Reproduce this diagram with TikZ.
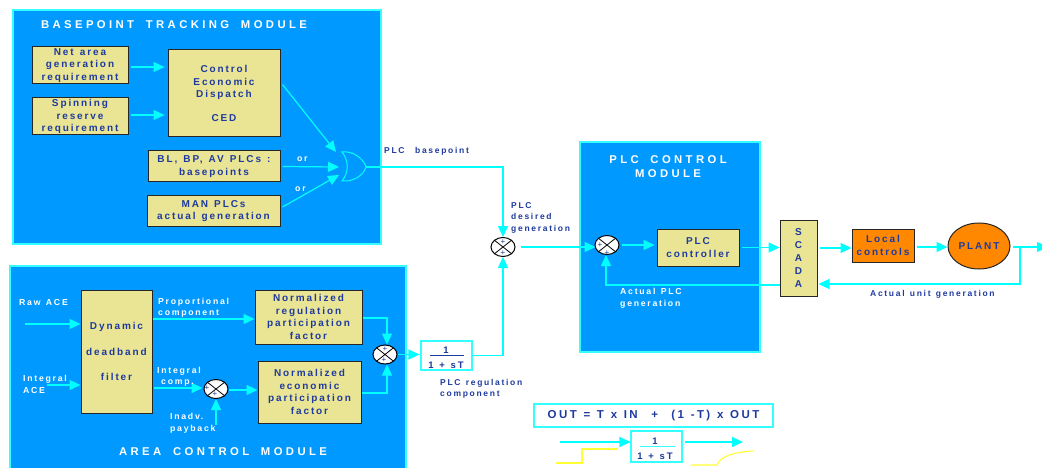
\documentclass[tikz,border=0pt]{standalone}
\usepackage{fontspec}
\setmainfont{Liberation Sans}
\newfontfamily\lab[LetterSpace=19,WordSpace=1.3]{Liberation Sans Bold}
\newfontfamily\slab[LetterSpace=20,WordSpace=1.3]{Liberation Sans Bold}
\newfontfamily\ttl[LetterSpace=30,WordSpace=1.8]{Liberation Sans Bold}
\newfontfamily\eqf[LetterSpace=21,WordSpace=1.2]{Liberation Sans Bold}
\usetikzlibrary{arrows.meta,shapes.geometric,calc}
\definecolor{modblue}{HTML}{0099FF}
\definecolor{modedge}{HTML}{33FFFF}
\definecolor{wire}{HTML}{00FFFF}
\definecolor{boxy}{HTML}{E9E595}
\definecolor{ink}{HTML}{1F3A9E}
\definecolor{orng}{HTML}{FF8800}
\definecolor{yel}{HTML}{FFFF33}
\tikzset{
  x=1pt,y=-1pt,
  module/.style={draw=modedge,fill=modblue,line width=1.2pt},
  ybox/.style={draw=black!85,fill=boxy,line width=1pt,text=ink,font=\fontsize{10}{12.8}\lab,align=center,inner sep=0pt},
  tf/.style={draw=modedge,fill=white,line width=1.2pt,text=ink,inner sep=0pt},
  tftext/.style={text=ink,font=\fontsize{9.5}{10}\lab,inner sep=0pt},
  wlab/.style={text=white,font=\fontsize{8.7}{11.5}\slab,align=left,inner sep=0pt,anchor=west},
  blab/.style={text=ink,font=\fontsize{8.5}{11.5}\slab,align=left,inner sep=0pt,anchor=west},
  title/.style={text=white,font=\fontsize{11.3}{14}\ttl,align=center,inner sep=0pt},
  wire/.style={draw=wire,line width=1.2pt},
  arr/.style={wire,-{Triangle[length=11pt,width=10pt]}},
  sumj/.style={ellipse,draw=black,fill=white,line width=1pt,minimum width=24pt,minimum height=19pt,inner sep=0pt,
    path picture={\draw[black,line width=.8pt] (path picture bounding box.north west)--(path picture bounding box.south east)
      (path picture bounding box.north east)--(path picture bounding box.south west);}},
  plus/.style={text=ink,font=\fontsize{8}{8}\selectfont,inner sep=0pt},
}
\newcommand{\boxat}[6][ybox]{\node[#1,minimum width=#4pt,minimum height=#5pt] (#2) at (#3) {#6};}
\begin{document}
\begin{tikzpicture}
\useasboundingbox (0,0) rectangle (1042,468);
% modules
\path[module] (13,10) rectangle (381,244);
\path[module] (10,266) rectangle (406,475);
\path[module] (580,142) rectangle (760,352);
\clip (0,0) rectangle (1042,468);
\node[title] (ttlb) at (174,24.5) {BASEPOINT TRACKING MODULE};
\node[title] (ttla) at (223,452) {AREA CONTROL MODULE};
\node[title] (ttlp) at (668,167) {PLC CONTROL\\MODULE};
% boxes
\boxat{net}{80,65.5}{96}{37}{Net area\\generation\\requirement}
\boxat{spin}{80,116.5}{96}{37}{Spinning\\reserve\\requirement}
\boxat{ced}{224,93.5}{112}{87}{Control\\Economic\\Dispatch\\[11pt]CED}
\boxat{bl}{214,166.5}{132}{31}{BL, BP, AV PLCs :\\basepoints}
\boxat{man}{213.5,211}{133}{30}{MAN PLCs\\actual generation}
\boxat{dyn}{116.5,351.5}{71}{123}{Dynamic\\[13pt]deadband\\[13pt]filter}
\boxat{reg}{308.5,317}{107}{54}{Normalized\\regulation\\participation\\factor}
\boxat{eco}{309.5,392}{103}{62}{Normalized\\economic\\participation\\factor}
\boxat{ctl}{698,247.5}{82}{37}{PLC\\controller}
\boxat{sca}{798.5,258}{37}{76}{S\\C\\A\\D\\A}
\node[ybox,fill=orng,minimum width=62pt,minimum height=33pt] (loc) at (883,245.5) {Local\\controls};
\node[ybox,ellipse,fill=orng,minimum width=62pt,minimum height=46pt] (plant) at (979,246) {PLANT};
\node[tf,minimum width=51pt,minimum height=29pt] (tf1) at (446.5,355.5) {};
\draw[ink,line width=.6pt] (430,355.5) -- (464,355.5);
\node[tftext] (tf1n) at (446,350) {1};
\node[tftext] (tf1d) at (446,365) {1 + sT};
\node[tf,minimum width=239pt,minimum height=23pt,font=\fontsize{11.5}{12}\eqf] (eqn) at (653.5,415.5) {OUT = T x IN \ + \ (1 -T) x OUT};
\node[tf,minimum width=51pt,minimum height=31pt] (tf2) at (656.5,446.5) {};
\draw[modedge,line width=.8pt] (640,446) -- (675,446);
\node[tftext] (tf2n) at (655,441) {1};
\node[tftext] (tf2d) at (655,456) {1 + sT};
% summing junctions
\node[sumj] (s1) at (503,247) {};
\node[sumj] (s2) at (385,354.5) {};
\node[sumj] (s3) at (216,389) {};
\node[sumj] (s4) at (607,245) {};
\node[plus] (p1a) at (503,242) {+}; \node[plus] (p1b) at (503,253) {+};
\node[plus] (p2a) at (385,349) {+}; \node[plus] (p2b) at (384,360) {+};
\node[plus] (p3a) at (207,388) {+}; \node[plus] (p3b) at (215,394) {+};
\node[plus] (p4a) at (600,245) {+}; \node[plus] (p4b) at (607,253) {+};
% OR gate
\coordinate (orout) at (366,167);
\draw[wire,line width=1pt] (342,152) -- (347,152) .. controls (356,153) and (364,160) .. (orout) .. controls (364,174) and (356,180) .. (347,181) -- (342,181) .. controls (349,172) and (349,161) .. (342,152) -- cycle;
% connectors top
\draw[arr] ([shift={(2,1.5)}]net.east) -- ([shift={(-3,1.5)}]ced.west |- net.east);
\draw[arr] ([shift={(2,-1.5)}]spin.east) -- ([shift={(-3,-1.5)}]ced.west |- spin.east);
\coordinate (orA) at (336,152); \coordinate (orB) at (339,167); \coordinate (orC) at (339,175);
\draw[arr] ([shift={(2,-9)}]ced.east) -- (orA);
\draw[arr] ([xshift=2pt]bl.east) -- (orB);
\draw[arr] ([shift={(2,-4)}]man.east) -- (orC);
\node[wlab] (or1) at (297,159.5) {or};
\node[wlab] (or2) at (295,189) {or};
\coordinate (xb) at (503,167);
\draw[arr] (orout) -- (xb) -- (s1.north);
\node[blab] (lb) at (384,151.5) {PLC\ \ basepoint};
\node[blab] (ld) at (511,217.5) {PLC\\desired\\generation};
\node[blab] (lr) at (440,389) {PLC regulation\\component};
% area connectors
\coordinate (raw) at (25,324); \coordinate (iace) at (47,385);
\node[wlab] (lraw) at (19,302.5) {Raw ACE};
\draw[arr] (raw) -- (dyn.west |- raw);
\draw[arr] (iace) -- (dyn.west |- iace);
\node[wlab] (liace) at (23,384.5) {Integral\\ACE};
\coordinate (ya) at (0,319);
\draw[arr] (dyn.east |- ya) -- (reg.west |- ya);
\node[wlab] (lprop) at (158,307.5) {Proportional\\component};
\coordinate (ic) at (154,388);
\draw[arr] (ic) -- ([xshift=-1pt]s3.west |- ic);
\node[wlab] (lic) at (157,376.5) {Integral\\\hspace*{4pt}comp.};
\coordinate (yb) at (0,390);
\draw[arr] (s3.east |- yb) -- (eco.west |- yb);
\coordinate (pay) at (216,425);
\draw[arr] (pay) -- (s3.south);
\node[wlab] (lpay) at (170,423) {Inadv.\\payback};
\coordinate (yc) at (0,318); \coordinate (yd) at (0,393); \coordinate (xc) at (387,0);
\draw[arr] (reg.east |- yc) -| (xc |- s2.north);
\draw[arr] (eco.east |- yd) -| (xc |- s2.south);
\draw[arr] (s2.east) -- ([xshift=-1pt]tf1.west |- s2.east);
\draw[arr] (tf1.east) -| (s1.south);
% plc connectors
\draw[arr] ([xshift=5pt]s1.east) -- ([xshift=1pt]s4.west |- s1.east);
\draw[arr] ([xshift=2pt]s4.east) -- ([xshift=-2pt]ctl.west |- s4.east);
\draw[arr] ([xshift=2pt]ctl.east) -- (sca.west |- ctl.east);
\coordinate (ye) at (0,285);
\draw[arr] (sca.west |- ye) -| ([xshift=-1pt]s4.south);
\node[wlab] (la) at (620,298.5) {Actual PLC\\generation};
\coordinate (yf) at (0,248); \coordinate (yg) at (0,247); \coordinate (yh) at (0,284);
\draw[arr] ([xshift=2pt]sca.east |- yf) -- (loc.west |- yf);
\draw[arr] ([xshift=2pt]loc.east |- yg) -- (plant.west |- yg);
\coordinate (plout) at (1048,247);
\draw[arr] ([xshift=2pt]plant.east |- yg) -- (plout);
\coordinate (tap) at (1020,247);
\draw[arr] (tap) |- ([xshift=1pt]sca.east |- yh);
\node[blab] (lu) at (870,294) {Actual unit generation};
% legend
\coordinate (ain) at (560,442); \coordinate (aout) at (743,442);
\draw[arr] (ain) -- (tf2.west |- ain);
\draw[arr] ([xshift=2pt]tf2.east |- aout) -- (aout);
\draw[yel,line width=1.1pt] (556,463) -- (582,463) -- (582,449) -- (618,449);
\draw[yel,line width=1.1pt] (691,465) -- (717,465) .. controls (720,456) and (735,452) .. (753,451);
\end{tikzpicture}
\end{document}
